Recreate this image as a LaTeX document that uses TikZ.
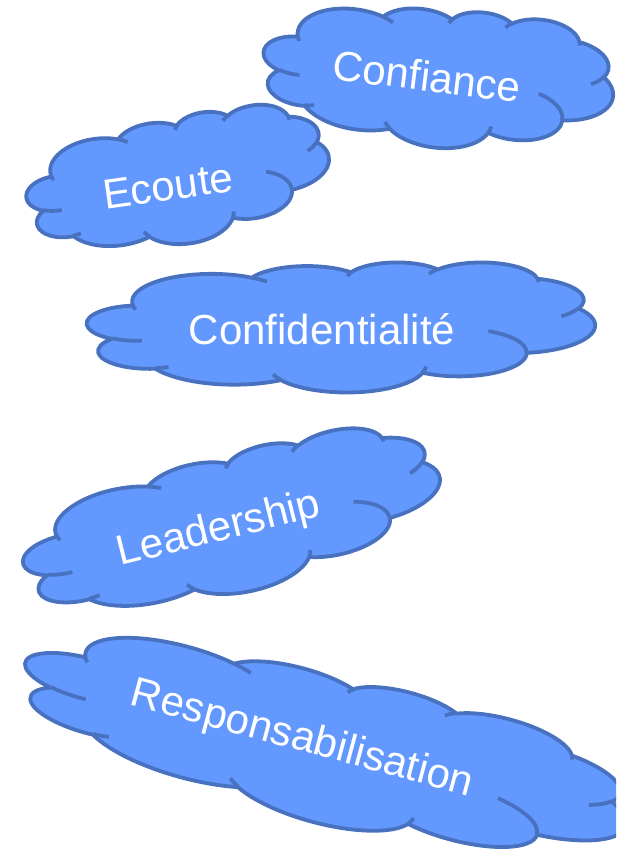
\documentclass[tikz,border=0pt]{standalone}
\usepackage{fontspec}
\setmainfont{Liberation Sans}
\definecolor{cloudfill}{RGB}{99,152,255}
\definecolor{cloudline}{RGB}{72,114,192}
\tikzset{
  mot/.style={text=white, font=\fontsize{42}{50}\selectfont, inner sep=0pt}
}
% arc in OOXML style: radii, visual start angle, visual sweep (degrees)
\newcommand\ooarc[4]{%
  \pgfmathsetmacro\ooSt{#3}%
  \pgfmathsetmacro\ooEn{#3+#4}%
  \pgfmathsetmacro\ooTa{atan2(#1*sin(\ooSt),#2*cos(\ooSt))}%
  \pgfmathsetmacro\ooTb{atan2(#1*sin(\ooEn),#2*cos(\ooEn))}%
  \pgfmathsetmacro\ooD{\ooTb-\ooTa}%
  \pgfmathsetmacro\ooD{\ooD-360*round((\ooD-(#4))/360)}%
  \pgfmathsetmacro\ooTb{\ooTa+\ooD}%
  \pgfpatharc{\ooTa}{\ooTb}{#1pt and #2pt}%
}
% cloud: centre x, centre y, width, height, rotation
\newcommand\ppcloud[5]{%
  \begin{scope}[shift={(#1,#2)},rotate=#5,xscale=#3/432,yscale=-#4/432]
    \pgfsetlinewidth{3.8pt}\pgfsetroundjoin
    \pgfsetfillcolor{cloudfill}\pgfsetstrokecolor{cloudline}
    \pgfpathmoveto{\pgfpoint{-177pt}{-72.3pt}}
    \ooarc{67.53}{91.90}{-190.48748}{123.78053}
    \ooarc{53.33}{72.67}{-144.10238}{89.94523}
    \ooarc{43.65}{59.45}{-145.80792}{99.72302}
    \ooarc{48.57}{65.95}{-130.98607}{117.24173}
    \ooarc{53.33}{72.73}{-78.70888}{109.02692}
    \ooarc{67.75}{92.20}{-46.26725}{130.269}
    \ooarc{57.85}{78.67}{0.62502}{114.03333}
    \ooarc{67.52}{92.15}{22.4516}{115.17255}
    \ooarc{77.20}{105.43}{66.24263}{75.71102}
    \ooarc{43.60}{59.18}{-274.94208}{146.73557}
    \ooarc{43.45}{59.45}{-246.8285}{152.51885}
    \pgfpathclose
    \pgfusepath{fill,stroke}
    \pgfpathmoveto{\pgfpoint{-169.07pt}{45.77pt}}\ooarc{43.45}{59.45}{86.742}{26.4295}
    \pgfpathmoveto{\pgfpoint{-146.72pt}{132.99pt}}\ooarc{43.60}{59.18}{73.61047}{11.44747}
    \pgfpathmoveto{\pgfpoint{-51.22pt}{174.90pt}}\ooarc{67.52}{92.15}{137.62415}{14.0811}
    \pgfpathmoveto{\pgfpoint{72.27pt}{131.51pt}}\ooarc{67.52}{92.15}{6.45327}{15.99835}
    \pgfpathmoveto{\pgfpoint{125.29pt}{13.54pt}}\ooarc{57.85}{78.67}{-70.29235}{70.91737}
    \pgfpathmoveto{\pgfpoint{201.98pt}{-62.46pt}}\ooarc{53.33}{72.73}{30.31803}{27.7515}
    \pgfpathmoveto{\pgfpoint{167.24pt}{-161.74pt}}\ooarc{48.57}{65.95}{-13.74433}{14.8589}
    \pgfpathmoveto{\pgfpoint{74.78pt}{-176.48pt}}\ooarc{48.57}{65.95}{-149.18145}{18.19537}
    \pgfpathmoveto{\pgfpoint{5.41pt}{-168.80pt}}\ooarc{43.65}{59.45}{-163.49427}{17.68635}
    \pgfpathmoveto{\pgfpoint{-76.00pt}{-164.08pt}}\ooarc{67.53}{91.90}{-66.70695}{12.31935}
    \pgfpathmoveto{\pgfpoint{-174.73pt}{-58.11pt}}\ooarc{67.53}{91.90}{157.65435}{11.85817}
    \pgfusepath{stroke}
  \end{scope}}
\begin{document}
\begin{tikzpicture}[x=1pt,y=-1pt]
\useasboundingbox (0,0) rectangle (616,851);
\clip (0,0) rectangle (616,851);
\ppcloud{438}{77}{352}{140}{-7}
\coordinate (c1) at (438,77);
\ppcloud{178}{180}{305}{128}{8}
\coordinate (c2) at (178,180);
\ppcloud{341}{327}{508}{130}{0}
\coordinate (c3) at (341,327);
\ppcloud{232}{523}{425}{140}{12}
\coordinate (c4) at (232,523);
\ppcloud{325}{747}{622}{150}{-15}
\coordinate (c5) at (325,747);
\node[mot, rotate=-7] (t1) at (427,76) {Confiance};
\node[mot, rotate=8] (t2) at (168,186) {Ecoute};
\node[mot] (t3) at (322,329) {Confidentialité};
\node[mot, rotate=14] (t4) at (219,530) {Leadership};
\node[mot, rotate=-15] (t5) at (302,740) {Responsabilisation};
\end{tikzpicture}
\end{document}
